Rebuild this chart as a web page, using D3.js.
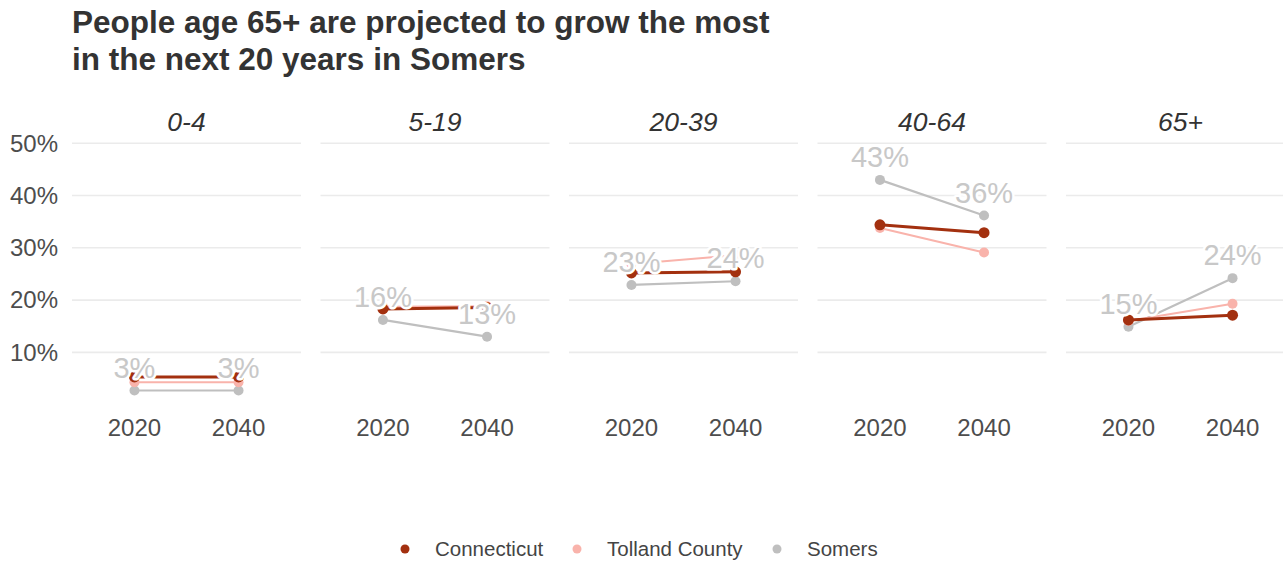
<!DOCTYPE html>
<html lang="en">
<head>
<meta charset="utf-8" />
<title>Population by age group</title>
<style>
    body { margin: 0; background: #fff; }
    svg { display: block; font-family: "Liberation Sans", Arial, sans-serif; }
    .grid line { stroke: #ebebeb; stroke-width: 1.6; }
    .tick-label { fill: #4d4d4d; font-size: 24px; }
    .strip { fill: #333; font-size: 26.5px; font-style: italic; }
    .val-label { fill: #c8c8c8; font-size: 29px; stroke: #fff; stroke-width: 5; paint-order: stroke; stroke-linejoin: round; }
    .legend text { fill: #444; font-size: 20.5px; }
</style>
</head>
<body>
<div id="chart"></div>
<script src="https://d3js.org/d3.v7.min.js"></script>
<script>
    // data (share of population, %)
    var ageGroups = ["0-4", "5-19", "20-39", "40-64", "65+"];
    var years = ["2020", "2040"];
    var regions = ["Connecticut", "Tolland County", "Somers"];
    var connecticut = [[5.3, 5.3], [18.3, 18.6], [25.2, 25.4], [34.4, 32.9], [16.2, 17.1]];
    var tolland = [[4.3, 4.3], [18.7, 18.8], [26.9, 28.6], [33.8, 29.1], [16.0, 19.3]];
    var somers = [[2.7, 2.7], [16.2, 13.0], [22.9, 23.6], [43.0, 36.2], [14.9, 24.2]];
    var yTicks = [10, 20, 30, 40, 50];

    var seriesValues = { "Connecticut": connecticut, "Tolland County": tolland, "Somers": somers };
    var colors = { "Connecticut": "#a3300f", "Tolland County": "#f9b3ab", "Somers": "#bfbfbf" };
    var lineWidth = { "Connecticut": 3, "Tolland County": 2, "Somers": 2.2 };
    var radius = { "Connecticut": 5.5, "Tolland County": 5, "Somers": 5 };
    var drawOrder = ["Somers", "Tolland County", "Connecticut"];

    var W = 1283, H = 563;
    var panelLeft = 72, panelStep = 248.5, panelWidth = 229;

    var svg = d3.select("#chart").append("svg")
        .attr("width", W)
        .attr("height", H);

    // title
    var title = svg.append("text")
        .style("font-size", "31.5px")
        .style("font-weight", "bold")
        .style("fill", "#333");
    title.append("tspan").attr("x", 72).attr("y", 33).text("People age 65+ are projected to grow the most");
    title.append("tspan").attr("x", 72).attr("y", 70).text("in the next 20 years in Somers");

    var y = d3.scaleLinear().domain([0, 50]).range([404.6, 143.3]);
    var x = d3.scalePoint().domain(years).range([0, panelWidth]).padding(0.6);
    var pct = function (v) { return d3.format(".0f")(v) + "%"; };

    // y axis labels (left of the first panel only)
    svg.append("g").selectAll("text")
        .data(yTicks)
        .join("text")
        .attr("class", "tick-label")
        .attr("x", 58)
        .attr("y", function (d) { return y(d); })
        .attr("dy", "0.35em")
        .attr("text-anchor", "end")
        .text(function (d) { return d + "%"; });

    ageGroups.forEach(function (group, i) {
        var g = svg.append("g")
            .attr("transform", "translate(" + (panelLeft + i * panelStep) + ",0)");

        g.append("g").attr("class", "grid").selectAll("line")
            .data(yTicks)
            .join("line")
            .attr("x1", 0)
            .attr("x2", panelWidth)
            .attr("y1", function (d) { return y(d); })
            .attr("y2", function (d) { return y(d); });

        g.append("text")
            .attr("class", "strip")
            .attr("x", panelWidth / 2)
            .attr("y", 122)
            .attr("dy", "0.35em")
            .attr("text-anchor", "middle")
            .text(group);

        g.append("g").selectAll("text")
            .data(years)
            .join("text")
            .attr("class", "tick-label")
            .attr("x", function (d) { return x(d); })
            .attr("y", 428)
            .attr("dy", "0.35em")
            .attr("text-anchor", "middle")
            .text(function (d) { return d; });

        var line = d3.line()
            .x(function (d) { return x(d.year); })
            .y(function (d) { return y(d.value); });

        drawOrder.forEach(function (r) {
            var pts = years.map(function (yr, j) { return { year: yr, value: seriesValues[r][i][j] }; });
            g.append("path")
                .datum(pts)
                .attr("d", line)
                .attr("fill", "none")
                .attr("stroke", colors[r])
                .attr("stroke-width", lineWidth[r]);
            g.selectAll(null)
                .data(pts)
                .join("circle")
                .attr("cx", function (d) { return x(d.year); })
                .attr("cy", function (d) { return y(d.value); })
                .attr("r", radius[r])
                .attr("fill", colors[r]);
        });

        // value labels for Somers
        var sPts = years.map(function (yr, j) { return { year: yr, value: somers[i][j] }; });
        g.selectAll(null)
            .data(sPts)
            .join("text")
            .attr("class", "val-label")
            .attr("x", function (d) { return x(d.year); })
            .attr("y", function (d) { return y(d.value) - 23; })
            .attr("dy", "0.35em")
            .attr("text-anchor", "middle")
            .text(function (d) { return pct(d.value); });
    });

    // legend
    var legendX = [405, 577, 777];
    var legend = svg.append("g").attr("class", "legend");
    regions.forEach(function (r, k) {
        legend.append("circle")
            .attr("cx", legendX[k])
            .attr("cy", 549)
            .attr("r", 4.5)
            .attr("fill", colors[r]);
        legend.append("text")
            .attr("x", legendX[k] + 30)
            .attr("y", 549)
            .attr("dy", "0.35em")
            .text(r);
    });
</script>
</body>
</html>
